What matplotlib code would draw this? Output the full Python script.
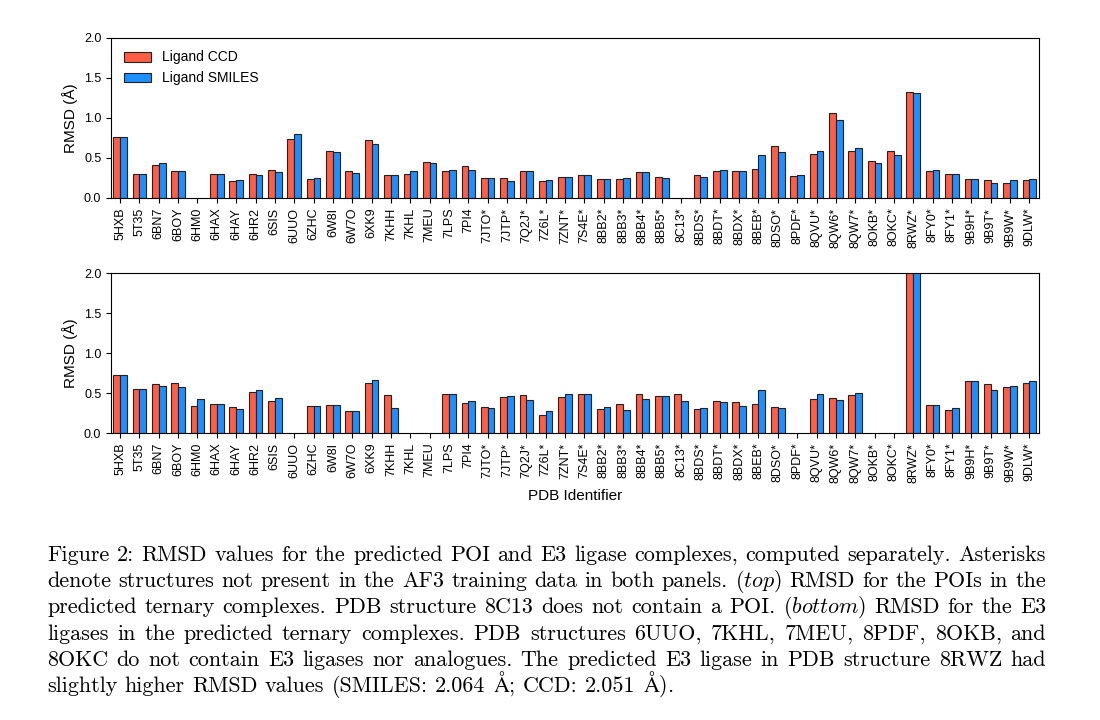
import matplotlib
matplotlib.use("Agg")
import matplotlib.pyplot as plt
import numpy as np

plt.rcParams['font.family'] = ['Liberation Sans', 'DejaVu Sans']
plt.rcParams['mathtext.fontset'] = 'cm'

pdb_ids = ["5HXB", "5T35", "6BN7", "6BOY", "6HM0", "6HAX", "6HAY", "6HR2", "6SIS", "6UUO",
           "6ZHC", "6W8I", "6W7O", "6XK9", "7KHH", "7KHL", "7MEU", "7LPS", "7PI4", "7JTO*",
           "7JTP*", "7Q2J*", "7Z6L*", "7ZNT*", "7S4E*", "8BB2*", "8BB3*", "8BB4*", "8BB5*", "8C13*",
           "8BDS*", "8BDT*", "8BDX*", "8BEB*", "8DSO*", "8PDF*", "8QVU*", "8QW6*", "8QW7*", "8OKB*",
           "8OKC*", "8RWZ*", "8FY0*", "8FY1*", "9B9H*", "9B9T*", "9B9W*", "9DLW*"]

nan = np.nan
# top panel: POI RMSD
poi_ccd = [0.758, 0.304, 0.408, 0.342, nan, 0.304, 0.217, 0.304, 0.354, 0.733,
           0.242, 0.583, 0.342, 0.721, 0.292, 0.304, 0.446, 0.342, 0.396, 0.252,
           0.250, 0.342, 0.213, 0.267, 0.288, 0.238, 0.238, 0.325, 0.263, nan,
           0.288, 0.338, 0.338, 0.367, 0.646, 0.275, 0.554, 1.058, 0.592, 0.463,
           0.592, 1.329, 0.342, 0.300, 0.238, 0.225, 0.188, 0.225]
poi_smiles = [0.758, 0.304, 0.433, 0.342, nan, 0.304, 0.229, 0.292, 0.329, 0.800,
              0.254, 0.571, 0.317, 0.671, 0.292, 0.342, 0.433, 0.354, 0.354, 0.252,
              0.213, 0.342, 0.225, 0.267, 0.288, 0.238, 0.250, 0.325, 0.250, nan,
              0.263, 0.354, 0.338, 0.542, 0.579, 0.288, 0.592, 0.971, 0.621, 0.440,
              0.542, 1.317, 0.354, 0.300, 0.238, 0.188, 0.225, 0.238]
# bottom panel: E3 ligase RMSD
e3_ccd = [0.721, 0.554, 0.608, 0.621, 0.342, 0.367, 0.329, 0.517, 0.404, nan,
          0.342, 0.354, 0.279, 0.621, 0.479, nan, nan, 0.492, 0.379, 0.329,
          0.454, 0.479, 0.225, 0.454, 0.492, 0.304, 0.367, 0.492, 0.467, 0.492,
          0.304, 0.404, 0.392, 0.367, 0.329, nan, 0.429, 0.442, 0.479, nan,
          nan, 2.051, 0.354, 0.292, 0.646, 0.608, 0.571, 0.621]
e3_smiles = [0.721, 0.554, 0.583, 0.571, 0.429, 0.367, 0.304, 0.542, 0.442, nan,
             0.342, 0.354, 0.279, 0.658, 0.317, nan, nan, 0.492, 0.404, 0.313,
             0.467, 0.417, 0.279, 0.492, 0.492, 0.329, 0.292, 0.429, 0.467, 0.404,
             0.317, 0.392, 0.342, 0.542, 0.313, nan, 0.492, 0.417, 0.504, nan,
             nan, 2.064, 0.354, 0.317, 0.646, 0.542, 0.583, 0.646]

red = '#FF5E45'
blue = '#1E8FFF'

fig = plt.figure(figsize=(11, 7.2), dpi=100)
ax1 = fig.add_axes([111/1100, 1-198/720, 928/1100, 160/720])
ax2 = fig.add_axes([111/1100, 1-433/720, 928/1100, 160/720])

x = np.arange(len(pdb_ids))
w = 0.35
for ax, ccd, smi in [(ax1, poi_ccd, poi_smiles), (ax2, e3_ccd, e3_smiles)]:
    ax.bar(x - w/2, ccd, w, color=red, edgecolor='#222222', linewidth=0.8, label='Ligand CCD')
    ax.bar(x + w/2, smi, w, color=blue, edgecolor='#222222', linewidth=0.8, label='Ligand SMILES')
    ax.set_xlim(-0.47, len(pdb_ids) - 0.5)
    ax.set_ylim(0, 2.0)
    ax.set_yticks([0.0, 0.5, 1.0, 1.5, 2.0])
    ax.set_yticklabels(['0.0', '0.5', '1.0', '1.5', '2.0'], fontsize=9)
    ax.set_xticks(x)
    ax.set_xticklabels(pdb_ids, rotation=90, fontsize=9)
    ax.set_ylabel('RMSD (Å)', fontsize=11)
    ax.tick_params(length=3.5, width=0.8)

ax1.legend(loc='upper left', frameon=False, fontsize=10, bbox_to_anchor=(0.0, 1.0))
ax2.set_xlabel('PDB Identifier', fontsize=11)

# caption, justified
lines = [
    "Figure 2: RMSD values for the predicted POI and E3 ligase complexes, computed separately. Asterisks",
    "denote structures not present in the AF3 training data in both panels. (top) RMSD for the POIs in the",
    "predicted ternary complexes. PDB structure 8C13 does not contain a POI. (bottom) RMSD for the E3",
    "ligases in the predicted ternary complexes. PDB structures 6UUO, 7KHL, 7MEU, 8PDF, 8OKB, and",
    "8OKC do not contain E3 ligases nor analogues. The predicted E3 ligase in PDB structure 8RWZ had",
    "slightly higher RMSD values (SMILES: 2.064 Å; CCD: 2.051 Å).",
]
cap_size = 15.9
cap_left = 47
cap_right = 1046
base0 = 561
step = 26.2
serif = ['cmr10', 'DejaVu Serif']

fig.canvas.draw()
renderer = fig.canvas.get_renderer()

def make_word(word):
    if word in ('(top)', '(bottom)'):
        s = r'$\mathit{' + word + '}$'
        t = fig.text(0, 0, s, fontsize=cap_size, va='baseline', ha='left', transform=None)
    else:
        s = word.replace('Å', r'$\mathrm{\AA}$')
        t = fig.text(0, 0, s, fontsize=cap_size, va='baseline', ha='left',
                     family=serif, transform=None)
    return t

space = cap_size * 100 / 72 * 0.333
for i, line in enumerate(lines):
    words = line.split(' ')
    texts = [make_word(wd) for wd in words]
    widths = [t.get_window_extent(renderer).width for t in texts]
    if i < len(lines) - 1:
        gap = (cap_right - cap_left - sum(widths)) / (len(words) - 1)
    else:
        gap = space
    xpos = cap_left
    ypos = 720 - (base0 + i * step)
    for t, wd in zip(texts, widths):
        t.set_position((xpos, ypos))
        xpos += wd + gap

fig.savefig('out.png', dpi=100)
